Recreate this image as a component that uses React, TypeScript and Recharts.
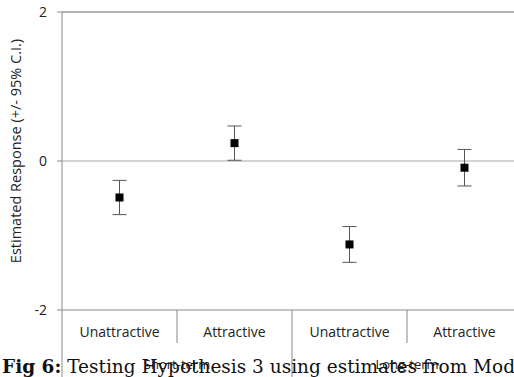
import { ComposedChart, Line, XAxis, YAxis, ReferenceLine, ErrorBar } from 'recharts';

const categories = ['Unattractive', 'Attractive', 'Unattractive', 'Attractive'];
const groups = ['Short-term', 'Short-term', 'Long-term', 'Long-term'];
const estimates = [-0.49, 0.24, -1.12, -0.09];
const halfCI = [0.23, 0.23, 0.24, 0.245];
const yTicks = [-2, 0, 2];

const keys = categories.map((cat, i) => `${groups[i]} / ${cat}`);
const data = keys.map((key, i) => ({
  key,
  est: estimates[i],
  ci: halfCI[i],
}));

const W = 530;
const H = 377;
const MARGIN = { top: 12, right: 8, bottom: 0, left: 0 };
const Y_W = 62;
const PLOT_W = W - MARGIN.left - MARGIN.right - Y_W;
const BAND = PLOT_W / categories.length;
const AXIS = '#8a8a8a';
const FONT = '"Open Sans", sans-serif';

// category label + separators; the first tick of each group also draws the group label
const CatTick = ({ x, y, payload }: any) => {
  const i = keys.indexOf(payload.value);
  if (i < 0) return null;
  const g = groups[i];
  const groupStart = i === 0 || groups[i - 1] !== g;
  const groupSize = groups.filter((v) => v === g).length;
  const left = x - BAND / 2;
  return (
    <g>
      <line x1={left} x2={left} y1={y} y2={groupStart ? y + 67 : y + 33} stroke={AXIS} />
      <text x={x} y={y + 27} textAnchor="middle" fontSize={14} fill="#222" fontFamily={FONT}>
        {categories[i]}
      </text>
      {groupStart && (
        <text x={left + (groupSize * BAND) / 2} y={y + 59} textAnchor="middle" fontSize={13} fill="#222" fontFamily={FONT}>
          {g}
        </text>
      )}
    </g>
  );
};

const YLabel = ({ viewBox }: any) => {
  const cx = 15;
  const cy = viewBox.y + viewBox.height / 2 - 10;
  return (
    <text
      x={cx}
      y={cy}
      transform={`rotate(-90, ${cx}, ${cy})`}
      textAnchor="middle"
      dominantBaseline="central"
      fontSize={14.5}
      fill="#222"
      fontFamily={FONT}
    >
      Estimated Response (+/- 95% C.I.)
    </text>
  );
};

const Square = (props: any) => {
  const { cx, cy, index } = props;
  return <rect key={index} x={cx - 4} y={cy - 4} width={8} height={8} fill="#000" />;
};

export default function App() {
  return (
    <div style={{ position: 'fixed', left: 0, top: 0, width: 514, height: H, overflow: 'hidden', background: '#fff' }}>
      <ComposedChart width={W} height={H} data={data} margin={MARGIN}>
        <XAxis
          dataKey="key"
          scale="band"
          height={67}
          stroke={AXIS}
          tickLine={false}
          tickSize={0}
          tickMargin={0}
          tick={<CatTick />}
          interval={0}
        />
        <YAxis
          width={Y_W}
          domain={[-2, 2]}
          ticks={yTicks}
          stroke={AXIS}
          tickSize={5}
          tickMargin={10}
          tick={{ fill: '#222', fontSize: 14, fontFamily: FONT }}
          label={<YLabel />}
        />
        <ReferenceLine y={2} stroke="#9a9a9a" strokeWidth={1.5} />
        <ReferenceLine y={0} stroke="#c4c4c4" strokeWidth={1.5} />
        <Line
          dataKey="est"
          stroke="none"
          dot={Square}
          activeDot={false}
          isAnimationActive={false}
        >
          <ErrorBar dataKey="ci" direction="y" width={7} stroke="#555" strokeWidth={1} isAnimationActive={false} />
        </Line>
      </ComposedChart>
      <div
        style={{
          position: 'absolute',
          left: 2,
          top: 357,
          fontFamily: '"DejaVu Serif", serif',
          fontSize: 18.5,
          lineHeight: '19px',
          whiteSpace: 'nowrap',
          color: '#111',
        }}
      >
        <b>Fig 6:</b> Testing Hypothesis 3 using estimates from Model
      </div>
    </div>
  );
}
